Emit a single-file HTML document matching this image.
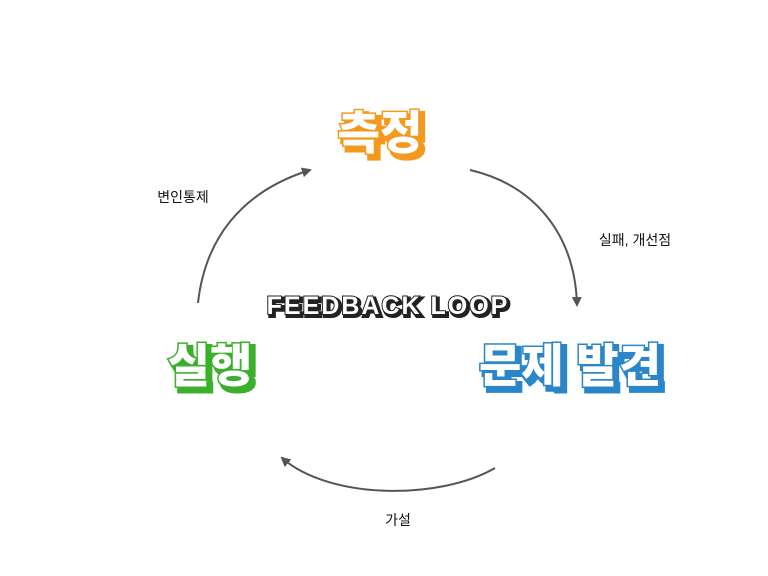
<!DOCTYPE html>
<html><head><meta charset="utf-8"><style>
html,body{margin:0;padding:0;background:#fff;width:768px;height:576px;overflow:hidden}
svg{display:block}
.t{font-family:"Liberation Sans","Noto Sans CJK KR",sans-serif;font-weight:900}
.l{font-family:"Liberation Sans","Noto Sans CJK KR",sans-serif;font-size:14px;fill:#111}
</style></head><body>
<svg width="768" height="576" viewBox="0 0 768 576" xmlns="http://www.w3.org/2000/svg">
<defs>
<marker id="a" markerWidth="10" markerHeight="10" refX="8" refY="5" orient="auto" markerUnits="userSpaceOnUse">
<path d="M0,0 L10,5 L0,10 Z" fill="#555"/></marker>
</defs>
<g fill="none" stroke="#555" stroke-width="2">
<path d="M198,303 C205,240 240,192 310,170" marker-end="url(#a)"/>
<path d="M470,170 C535,185 575,235 577,305" marker-end="url(#a)"/>
<path d="M495,468 C440,500 330,500 282,458" marker-end="url(#a)"/>
</g>
<!-- 측정 -->
<g class="t" font-size="46" text-anchor="middle">
<text x="384" y="153" fill="#f39a1e" stroke="#f39a1e" stroke-width="6">측정</text>
<text x="380" y="149" fill="#fff" stroke="#f39a1e" stroke-width="3" paint-order="stroke">측정</text>
</g>
<!-- 문제 발견 -->
<g class="t" font-size="46" text-anchor="middle">
<text x="574" y="386" fill="#2a86c8" stroke="#2a86c8" stroke-width="6">문제 발견</text>
<text x="570" y="382" fill="#fff" stroke="#2a86c8" stroke-width="3" paint-order="stroke">문제 발견</text>
</g>
<!-- 실행 -->
<g class="t" font-size="46" text-anchor="middle">
<text x="214" y="386" fill="#3bb02a" stroke="#3bb02a" stroke-width="6">실행</text>
<text x="210" y="382" fill="#fff" stroke="#3bb02a" stroke-width="3" paint-order="stroke">실행</text>
</g>
<!-- FEEDBACK LOOP -->
<g class="t" font-size="25" text-anchor="middle" letter-spacing="2">
<text x="390" y="316" fill="#222" stroke="#222" stroke-width="4">FEEDBACK LOOP</text>
<text x="388" y="314" fill="#fff" stroke="#222" stroke-width="2" paint-order="stroke">FEEDBACK LOOP</text>
</g>
<text class="l" x="183" y="202" text-anchor="middle">변인통제</text>
<text class="l" x="635" y="245" text-anchor="middle">실패, 개선점</text>
<text class="l" x="398" y="525" text-anchor="middle">가설</text>
</svg>
</body></html>
